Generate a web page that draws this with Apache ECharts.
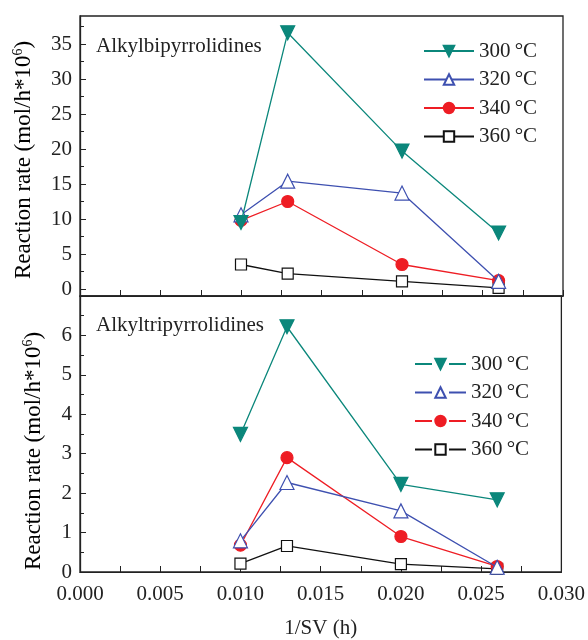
<!DOCTYPE html>
<html>
<head>
<meta charset="utf-8">
<script src="https://cdn.jsdelivr.net/npm/echarts@6/dist/echarts.min.js"></script>
<style>
html, body { margin: 0; padding: 0; background: #fff; }
#main { width: 588px; height: 640px; }
</style>
</head>
<body>
<div id="main"></div>
<script>
// 1/SV (h)
var xValues = [0.010, 0.0129, 0.020, 0.026];
var tempNames = ['300\u2009°C', '320\u2009°C', '340\u2009°C', '360\u2009°C'];

// Alkylbipyrrolidines
var bi300 = [9.5, 36.6, 19.7, 8.0];
var bi320 = [10.6, 15.4, 13.7, 1.1];
var bi340 = [9.8, 12.5, 3.5, 1.2];
var bi360 = [3.5, 2.2, 1.1, 0.15];

// Alkyltripyrrolidines
var tri300 = [3.49, 6.22, 2.22, 1.83];
var tri320 = [0.79, 2.27, 1.55, 0.12];
var tri340 = [0.68, 2.9, 0.9, 0.14];
var tri360 = [0.21, 0.66, 0.2, 0.08];

var topLabels = [0, 5, 10, 15, 20, 25, 30, 35];
var topMinor = [2.5, 7.5, 12.5, 17.5, 22.5, 27.5, 32.5, 37.5];

var font = 'Liberation Serif';
var colors = ['#0b877b', '#3e50b0', '#ee1d24', '#111111'];

function pairs(ys) {
    return xValues.map(function (x, i) { return [x, ys[i]]; });
}

// 每条曲线的样式
var styles = [
    { symbol: 'triangle', symbolRotate: 180, symbolSize: 14, fill: colors[0] },
    { symbol: 'triangle', symbolRotate: 0, symbolSize: 14, fill: '#fff' },
    { symbol: 'circle', symbolRotate: 0, symbolSize: 12, fill: colors[2] },
    { symbol: 'rect', symbolRotate: 0, symbolSize: 11, fill: '#fff' }
];

function makeSeries(idx, ys, xIdx, yIdx) {
    var s = styles[idx];
    return {
        name: tempNames[idx],
        type: 'line',
        xAxisIndex: xIdx,
        yAxisIndex: yIdx,
        data: pairs(ys),
        symbol: s.symbol,
        symbolRotate: s.symbolRotate,
        symbolSize: s.symbolSize,
        showAllSymbol: true,
        animation: false,
        lineStyle: { color: colors[idx], width: 1.3 },
        itemStyle: { color: s.fill, borderColor: colors[idx], borderWidth: 1.2, opacity: 1 },
        z: 10 - idx
    };
}

var chart = echarts.init(document.getElementById('main'));

var xCommon = {
    type: 'value',
    min: 0,
    max: 0.03,
    interval: 0.005,
    axisLine: { onZero: false, lineStyle: { color: '#222', width: 1.2 } },
    axisTick: { inside: true, length: 6, lineStyle: { color: '#222' } },
    minorTick: { show: true, splitNumber: 2, length: 6, lineStyle: { color: '#222' } },
    splitLine: { show: false }
};

var option = {
    animation: false,
    grid: [
        { left: 80, right: 25, top: 16, height: 280, show: true, borderColor: '#222', borderWidth: 1.3 },
        { left: 80, right: 25, top: 296, height: 281, show: true, borderColor: '#222', borderWidth: 1.3 }
    ],
    series: []
};

option.xAxis = [
    Object.assign({}, xCommon, { gridIndex: 0, axisLabel: { show: false } }),
    Object.assign({}, xCommon, {
        gridIndex: 1,
        name: '1/SV (h)',
        nameLocation: 'middle',
        nameGap: 46,
        nameTextStyle: { fontFamily: font, fontSize: 21, color: '#222' },
        axisLabel: {
            margin: 12,
            fontFamily: font, fontSize: 21, color: '#222',
            formatter: function (v) { return v.toFixed(3); }
        }
    })
];

option.yAxis = [
    {
        type: 'value', gridIndex: 0, min: -1, max: 39,
        axisLine: { lineStyle: { color: '#222', width: 1.3 } },
        axisTick: { inside: true, length: 6, customValues: topLabels, lineStyle: { color: '#222' } },
        axisLabel: { customValues: topLabels, fontFamily: font, fontSize: 21, color: '#222', margin: 8 },
        splitLine: { show: false }
    },
    {
        type: 'value', gridIndex: 0, min: -1, max: 39, position: 'left',
        axisLine: { show: false },
        axisTick: { inside: true, length: 4, customValues: topMinor, lineStyle: { color: '#222' } },
        axisLabel: { show: false },
        splitLine: { show: false }
    },
    {
        type: 'value', gridIndex: 1, min: 0, max: 7, interval: 1,
        axisLine: { lineStyle: { color: '#222', width: 1.3 } },
        axisTick: { inside: true, length: 6, lineStyle: { color: '#222' } },
        minorTick: { show: true, splitNumber: 2, length: 4, lineStyle: { color: '#222' } },
        axisLabel: { showMaxLabel: false, fontFamily: font, fontSize: 21, color: '#222', margin: 8 },
        splitLine: { show: false }
    }
];

var legendText = { fontFamily: font, fontSize: 21, color: '#222', lineHeight: 22 };
option.legend = [
    {
        orient: 'vertical', left: 418, top: 35, itemWidth: 50, itemHeight: 13, itemGap: 6.5,
        textStyle: legendText, data: tempNames, selectedMode: false
    },
    {
        orient: 'vertical', left: 409, top: 348, itemWidth: 51, itemHeight: 13, itemGap: 6.5,
        textStyle: legendText, data: tempNames, selectedMode: false,
        lineStyle: { type: [17, 17] }
    }
];

var biData = [bi300, bi320, bi340, bi360];
var triData = [tri300, tri320, tri340, tri360];
for (var i = 0; i < 4; i++) {
    option.series.push(makeSeries(i, biData[i], 0, 0));
    option.series.push(makeSeries(i, triData[i], 1, 2));
}

var yName = '{a|Reaction rate (mol/h*10}{b|6}{a|)}';
var yRich = {
    a: { fontFamily: font, fontSize: 23, color: '#222', lineHeight: 26 },
    b: { fontFamily: font, fontSize: 14, color: '#222', verticalAlign: 'top', lineHeight: 14 }
};

option.graphic = [
    { type: 'text', left: 96, top: 36, style: { text: 'Alkylbipyrrolidines', font: '21px "Liberation Serif"', fill: '#222' } },
    { type: 'text', left: 96, top: 315, style: { text: 'Alkyltripyrrolidines', font: '21px "Liberation Serif"', fill: '#222' } },
    { type: 'text', x: 24, y: 160, rotation: Math.PI / 2,
      style: { text: yName, rich: yRich, align: 'center', verticalAlign: 'middle' } },
    { type: 'text', x: 34, y: 451, rotation: Math.PI / 2,
      style: { text: yName, rich: yRich, align: 'center', verticalAlign: 'middle' } }
];

chart.setOption(option);
</script>
</body>
</html>
